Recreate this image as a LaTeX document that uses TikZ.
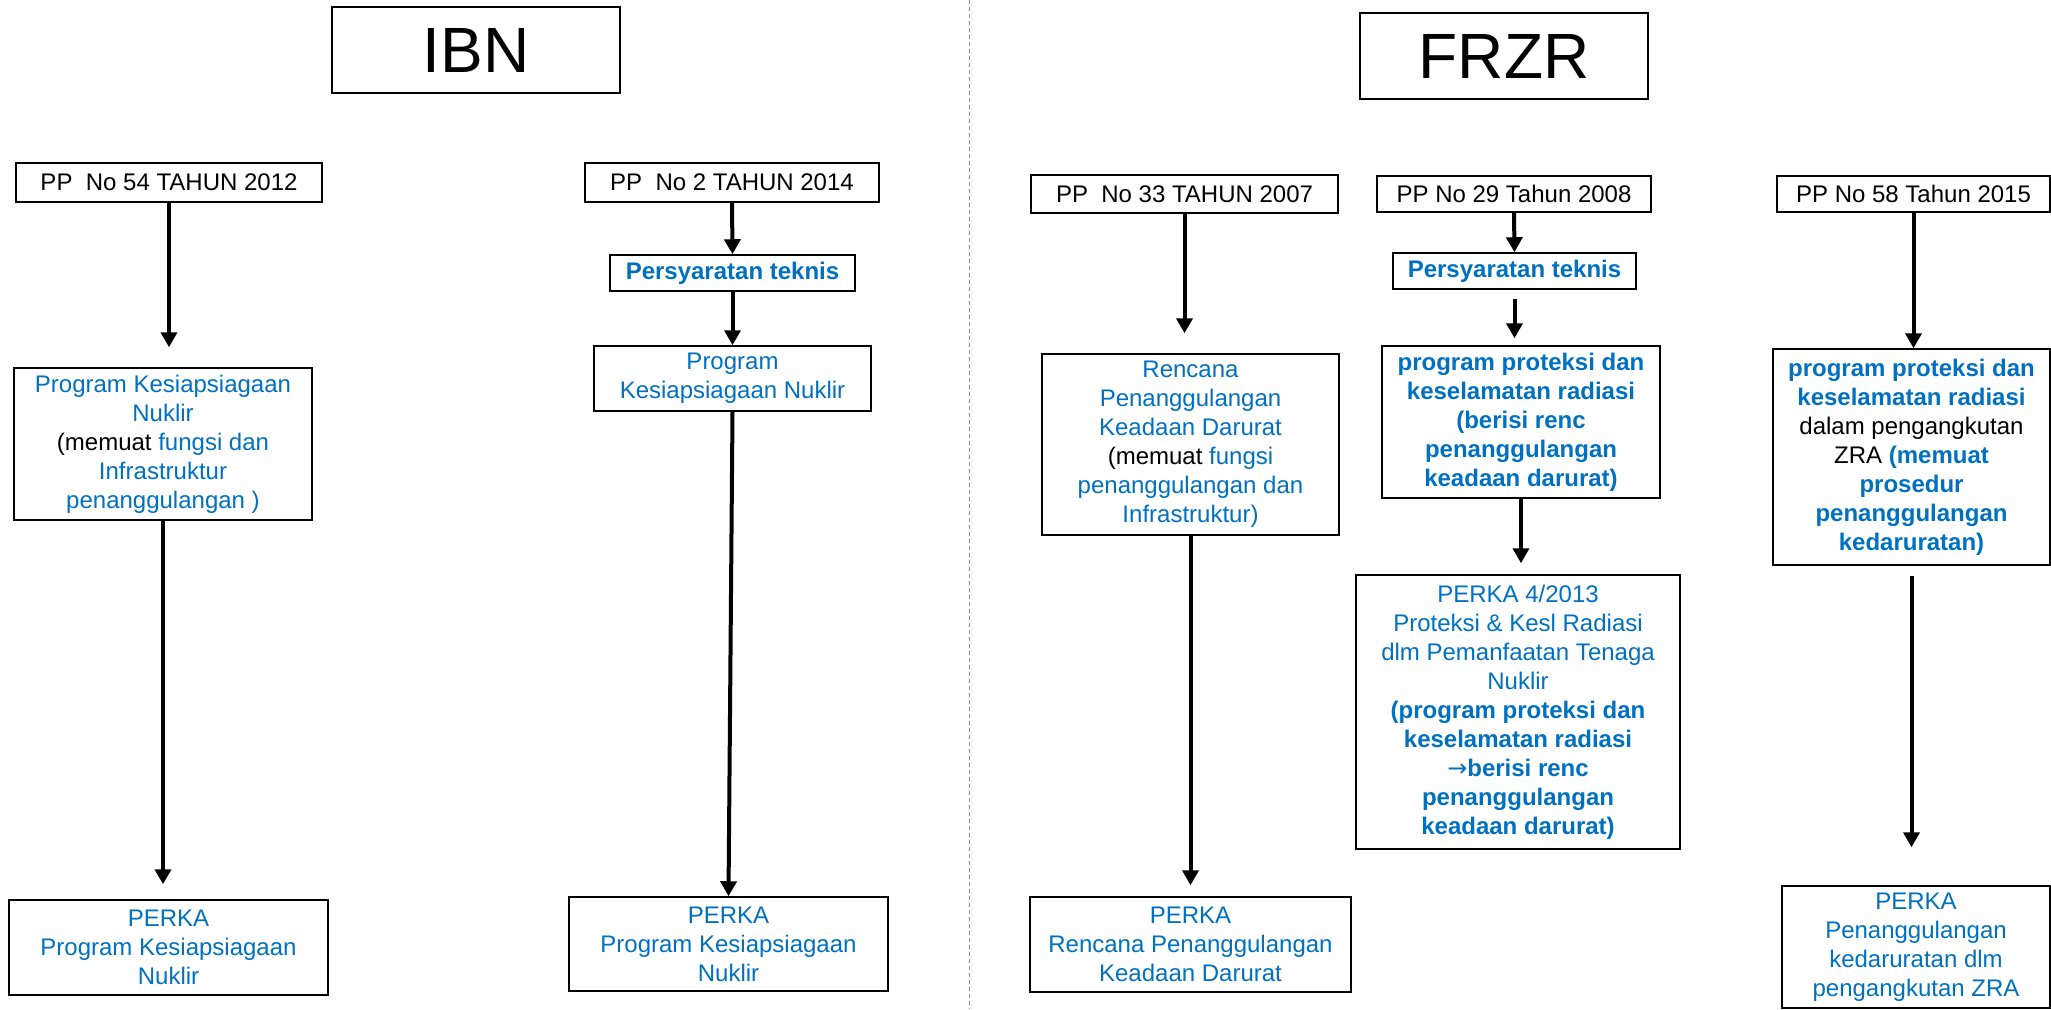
\documentclass[tikz,border=0pt]{standalone}
\usepackage{fontspec}
\setmainfont{Liberation Sans}
\newfontfamily\arrowfont{DejaVu Sans}
\usepackage{tikz}
\usetikzlibrary{arrows.meta}
\definecolor{ink}{HTML}{0070C0}
\definecolor{divider}{HTML}{5B9BD5}
\tikzset{
  doc/.style={draw,line width=0.75pt,inner sep=0pt,align=center,text=ink,
              font=\fontsize{12}{14.5}\selectfont},
  headbox/.style={draw,line width=0.75pt,inner sep=0pt,minimum width=144pt,
                  minimum height=43pt,font=\fontsize{32}{38}\selectfont},
  flow/.style={line width=2pt,-{Triangle[length=7.5pt,width=8pt]}},
}
\newcommand{\blk}[1]{\textcolor{black}{#1}}

\begin{document}
\begin{tikzpicture}[x=0.5pt,y=-0.5pt]
  \useasboundingbox (0,0) rectangle (2051,1009);

  % headings and divider
  \node[headbox] (ibn)  at (476,50)  {IBN};
  \node[headbox] (frzr) at (1504,56) {FRZR};
  \draw[divider,line width=0.5pt,dash pattern=on 2pt off 1.5pt] (969,0) -- (969,1009);

  % IBN
  \node[doc,text=black,minimum width=153pt,minimum height=19.5pt] (pp54) at (169,182.5) {PP\ \ No 54 TAHUN 2012};
  \node[doc,text=black,minimum width=147pt,minimum height=19.5pt] (pp2) at (732,182.5) {PP\ \ No 2 TAHUN 2014};
  \node[doc,font=\fontsize{12}{14.5}\selectfont\bfseries,minimum width=122.5pt,minimum height=18pt] (syaratA) at (732.5,273) {Persyaratan teknis};
  \node[doc,minimum width=149pt,minimum height=76pt] (progA) at (163,444)
    {Program Kesiapsiagaan\\Nuklir\\\blk{(memuat} fungsi dan\\Infrastruktur\\penanggulangan )};
  \node[doc,minimum width=138.5pt,minimum height=32.5pt] (progB) at (732.5,378.5)
    {Program\\Kesiapsiagaan Nuklir};
  \node[doc,minimum width=159.5pt,minimum height=47.5pt] (perkaA) at (168.5,947.5)
    {PERKA\\Program Kesiapsiagaan\\Nuklir};
  \node[doc,minimum width=159.5pt,minimum height=47pt] (perkaB) at (728.5,944)
    {PERKA\\Program Kesiapsiagaan\\Nuklir};

  % FRZR
  \node[doc,text=black,minimum width=153.5pt,minimum height=19pt] (pp33) at (1184.5,194) {PP\ \ No 33 TAHUN 2007};
  \node[doc,text=black,minimum width=137pt,minimum height=18pt] (pp29) at (1514,194) {PP No 29 Tahun 2008};
  \node[doc,text=black,minimum width=136.5pt,minimum height=18pt] (pp58) at (1913.5,194) {PP No 58 Tahun 2015};
  \node[doc,font=\fontsize{12}{14.5}\selectfont\bfseries,minimum width=121.5pt,minimum height=18pt] (syaratB) at (1514.5,271) {Persyaratan teknis};
  \node[doc,minimum width=148.5pt,minimum height=90.5pt] (rencana) at (1190.5,444.5)
    {Rencana\\Penanggulangan\\Keadaan Darurat\\\blk{(memuat} fungsi\\penanggulangan dan\\Infrastruktur)};
  \node[doc,font=\fontsize{12}{14.5}\selectfont\bfseries,minimum width=139pt,minimum height=76pt] (proteksi) at (1521,422)
    {program proteksi dan\\keselamatan radiasi\\(berisi renc\\penanggulangan\\keadaan darurat)};
  \node[doc,minimum width=162pt,minimum height=137pt] (perka4) at (1518,712)
    {PERKA 4/2013\\Proteksi \& Kesl Radiasi\\dlm Pemanfaatan Tenaga\\Nuklir\\
     \textbf{(program proteksi dan}\\\textbf{keselamatan radiasi}\\{\arrowfont→}\textbf{berisi renc}\\
     \textbf{penanggulangan}\\\textbf{keadaan darurat)}};
  \node[doc,minimum width=160.5pt,minimum height=47.5pt] (perkaC) at (1190.5,944.5)
    {PERKA\\Rencana Penanggulangan\\Keadaan Darurat};
  \node[doc,minimum width=138.5pt,minimum height=108pt] (zraprog) at (1911.5,457)
    {\textbf{program proteksi dan}\\\textbf{keselamatan radiasi}\\\blk{dalam pengangkutan}\\
     \blk{ZRA} \textbf{(memuat}\\\textbf{prosedur}\\\textbf{penanggulangan}\\\textbf{kedaruratan)}};
  \node[doc,minimum width=134pt,minimum height=61pt] (perkaD) at (1916,947)
    {PERKA\\Penanggulangan\\kedaruratan dlm\\pengangkutan ZRA};

  % arrows
  \draw[flow,shorten >=10pt] (pp54.south) -- (pp54.south |- progA.north);
  \draw[flow,shorten >=7.5pt] (progA.south) -- (progA.south |- perkaA.north);
  \draw[flow] (pp2.south) -- (syaratA.north);
  \draw[flow] (syaratA.south) -- (progB.north);
  \draw[flow] (progB.south) -- (perkaB.north);
  \draw[flow,shorten >=10pt] (pp33.south) -- (pp33.south |- rencana.north);
  \draw[flow,shorten >=5.5pt] (rencana.south) -- (rencana.south |- perkaC.north);
  \draw[flow] (pp29.south) -- (syaratB.south |- syaratB.north);
  \draw[flow,shorten <=4.5pt,shorten >=3.5pt] (syaratB.south) -- (syaratB.south |- proteksi.north);
  \draw[flow,shorten >=5.5pt] (proteksi.south) -- (proteksi.south |- perka4.north);
  \draw[flow] (pp58.south) -- (pp58.south |- zraprog.north);
  \draw[flow,shorten <=5pt,shorten >=19pt] (zraprog.south) -- (zraprog.south |- perkaD.north);
\end{tikzpicture}
\end{document}
